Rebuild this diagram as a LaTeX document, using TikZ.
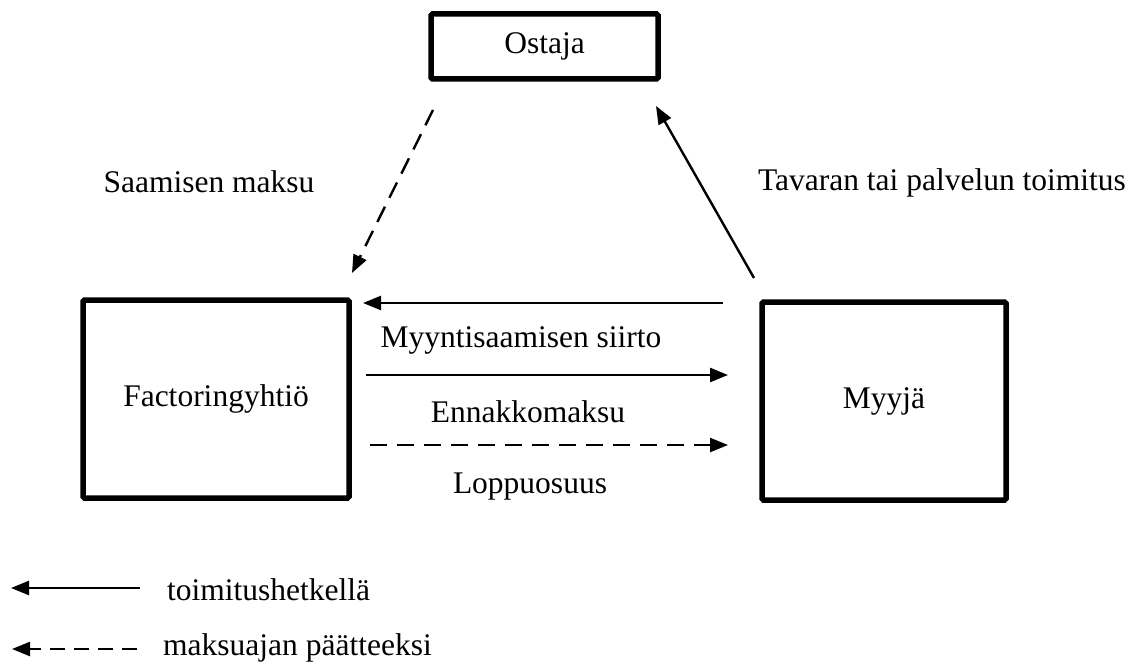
\documentclass[tikz,border=0pt]{standalone}
\usepackage{fontspec}
\setmainfont{Liberation Serif}
\usetikzlibrary{arrows.meta}
\begin{document}
\begin{tikzpicture}[x=1pt,y=-1pt,
  every node/.style={font=\fontsize{31.5}{38}\selectfont},
  box/.style={draw,line width=5.5pt,rounded corners=1.5pt,minimum width=#1,inner sep=0pt},
  lbl/.style={inner sep=0pt},
  conn/.style={line width=2.4pt,-{Triangle[length=18pt,width=14pt]}},
  dsh/.style={dash pattern=on 17pt off 10pt}
]
\useasboundingbox (0,0) rectangle (1134,666);
\node[box=227pt,minimum height=65pt] (ost) at (544.5,46.5) {Ostaja};
\node[box=266pt,minimum height=198pt] (fac) at (216,399) {Factoringyhtiö};
\node[box=244pt,minimum height=198pt] (myy) at (884,401) {Myyjä};

\coordinate (d1s) at (433,110);
\coordinate (d1e) at (352,273);
\coordinate (s1s) at (754,278);
\coordinate (s1e) at (656,106);
\coordinate (h1s) at (723,303);
\coordinate (h1e) at (363,303);
\coordinate (h2s) at (366,375);
\coordinate (h2e) at (728,375);
\coordinate (h3s) at (370,445);
\coordinate (h3e) at (728,445);
\coordinate (l1s) at (140,588);
\coordinate (l1e) at (11,588);
\coordinate (l2s) at (137,649);
\coordinate (l2e) at (12,649);

\draw[conn,dsh] (d1s) -- (d1e);
\draw[conn] (s1s) -- (s1e);
\draw[conn] (h1s) -- (h1e);
\draw[conn] (h2s) -- (h2e);
\draw[conn,dsh] (h3s) -- (h3e);
\draw[conn] (l1s) -- (l1e);
\draw[conn,dash pattern=on 15pt off 9pt] (l2s) -- (l2e);

\node[lbl] (t1) at (209,182) {Saamisen maksu};
\node[lbl] (t2) at (942,183) {Tavaran tai palvelun toimitus};
\node[lbl] (t3) at (521,340) {Myyntisaamisen siirto};
\node[lbl] (t4) at (528,412) {Ennakkomaksu};
\node[lbl] (t5) at (530,487) {Loppuosuus};
\node[lbl,anchor=west] (t6) at (167,590) {toimitushetkellä};
\node[lbl,anchor=west] (t7) at (163,648) {maksuajan päätteeksi};
\end{tikzpicture}
\end{document}
